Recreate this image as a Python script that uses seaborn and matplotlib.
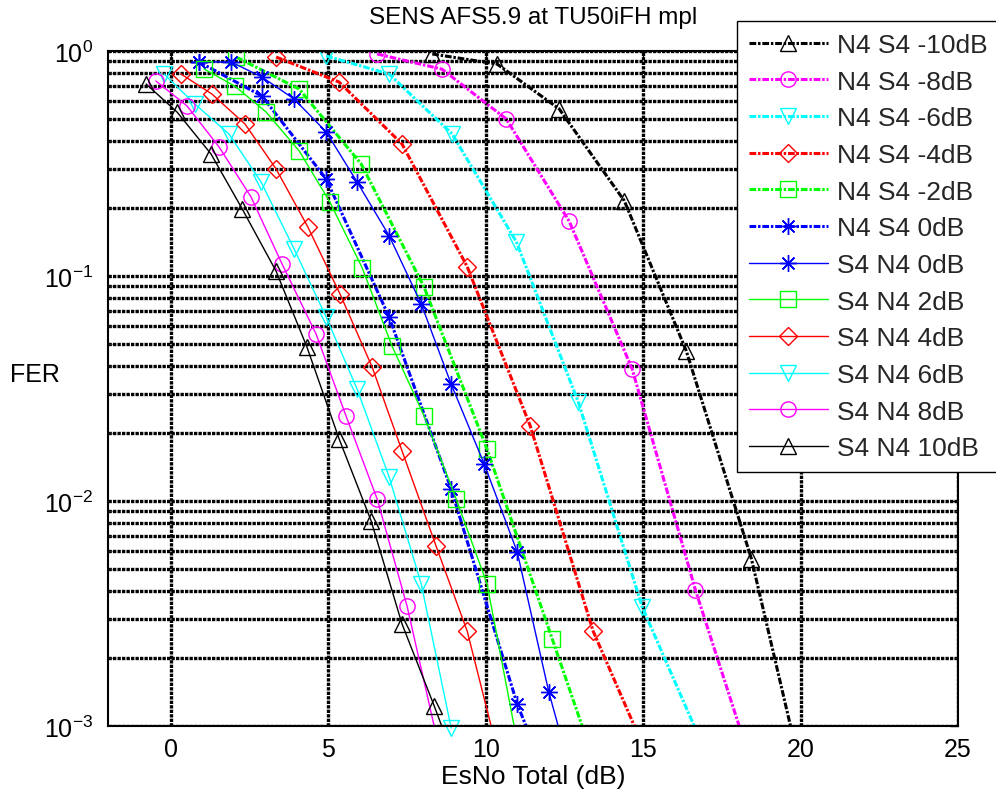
import numpy as np
import pandas as pd
import matplotlib
matplotlib.use("Agg")
import matplotlib.pyplot as plt
import seaborn as sns
from matplotlib.ticker import FixedLocator, LogLocator, NullFormatter, LogFormatterMathtext

# ---------------- data ----------------
# N4 S4 series (dash-dot, markers every ~2 dB); *_end = x where the curve leaves the bottom axis
n4s4_m10_x = [8.30, 10.36, 12.33, 14.40, 16.37, 18.44]
n4s4_m10_y = [0.97, 0.875, 0.553, 0.216, 0.0464, 0.00552]
n4s4_m10_end = 19.68

n4s4_m8_x = [6.55, 8.61, 10.65, 12.65, 14.65, 16.66]
n4s4_m8_y = [0.97, 0.83, 0.499, 0.175, 0.0386, 0.00402]
n4s4_m8_end = 18.05

n4s4_m6_x = [4.93, 6.93, 8.93, 10.97, 12.94, 14.97]
n4s4_m6_y = [0.95, 0.79, 0.428, 0.142, 0.0275, 0.00338]
n4s4_m6_end = 16.62

n4s4_m4_x = [3.34, 5.34, 7.34, 9.41, 11.41, 13.41]
n4s4_m4_y = [0.94, 0.728, 0.386, 0.11, 0.0216, 0.00264]
n4s4_m4_end = 14.72

n4s4_m2_x = [2.07, 4.07, 6.04, 8.04, 10.04, 12.11]
n4s4_m2_y = [0.94, 0.678, 0.315, 0.0893, 0.017, 0.00244]
n4s4_m2_end = 13.06

n4s4_0_x = [0.89, 2.89, 4.93, 6.93, 8.90, 11.0]
n4s4_0_y = [0.894, 0.631, 0.27, 0.0657, 0.0113, 0.00125]
n4s4_0_end = 11.28

# S4 N4 series (solid, markers every ~1 dB)
s4n4_0_x = [0.89, 1.91, 2.89, 3.91, 4.93, 5.91, 6.93, 7.95, 8.90, 9.95, 11.0, 12.0]
s4n4_0_y = [0.894, 0.894, 0.766, 0.612, 0.437, 0.262, 0.151, 0.0751, 0.0331, 0.0146, 0.00593, 0.00142]
s4n4_0_end = 12.30

s4n4_2_x = [1.05, 2.03, 3.02, 4.07, 5.05, 6.07, 7.02, 8.04, 9.06, 10.04]
s4n4_2_y = [0.832, 0.698, 0.536, 0.36, 0.213, 0.109, 0.0489, 0.0239, 0.0102, 0.00428]
s4n4_2_end = 10.90

s4n4_4_x = [0.32, 1.30, 2.35, 3.34, 4.35, 5.37, 6.39, 7.34, 8.42, 9.41]
s4n4_4_y = [0.79, 0.644, 0.474, 0.299, 0.165, 0.0832, 0.0394, 0.0167, 0.00631, 0.00264]
s4n4_4_end = 10.17

s4n4_6_x = [-0.22, 0.76, 1.84, 2.86, 3.91, 4.93, 5.91, 6.93, 7.95, 8.90]
s4n4_6_y = [0.79, 0.581, 0.428, 0.262, 0.132, 0.0657, 0.0315, 0.0128, 0.00428, 0.00098]
s4n4_6_end = None

s4n4_8_x = [-0.48, 0.51, 1.53, 2.54, 3.53, 4.61, 5.56, 6.55, 7.50]
s4n4_8_y = [0.736, 0.570, 0.374, 0.225, 0.113, 0.0552, 0.0239, 0.0102, 0.00341]
s4n4_8_end = 8.36

s4n4_10_x = [-0.79, 0.19, 1.27, 2.26, 3.34, 4.32, 5.34, 6.36, 7.34, 8.36]
s4n4_10_y = [0.713, 0.536, 0.349, 0.199, 0.105, 0.0483, 0.0189, 0.00815, 0.00284, 0.00123]
s4n4_10_end = 8.60

x_ticks = [0, 5, 10, 15, 20, 25]
title_text = "SENS AFS5.9 at TU50iFH mpl"
x_label = "EsNo Total (dB)"
y_label = "FER"

# ---------------- styles ----------------
DASHDOT = (0, (2.2, 0.6, 0.8, 0.6))
ASTER = (8, 2, 0)
series = [
    ("N4 S4 -10dB", n4s4_m10_x, n4s4_m10_y, n4s4_m10_end, "black",   "^", DASHDOT, 2.2),
    ("N4 S4 -8dB",  n4s4_m8_x,  n4s4_m8_y,  n4s4_m8_end,  "#ff00ff", "o", DASHDOT, 2.2),
    ("N4 S4 -6dB",  n4s4_m6_x,  n4s4_m6_y,  n4s4_m6_end,  "#00ffff", "v", DASHDOT, 2.2),
    ("N4 S4 -4dB",  n4s4_m4_x,  n4s4_m4_y,  n4s4_m4_end,  "#ff0000", "D", DASHDOT, 2.2),
    ("N4 S4 -2dB",  n4s4_m2_x,  n4s4_m2_y,  n4s4_m2_end,  "#00ff00", "s", DASHDOT, 2.2),
    ("N4 S4 0dB",   n4s4_0_x,   n4s4_0_y,   n4s4_0_end,   "#0000ff", ASTER, DASHDOT, 2.2),
    ("S4 N4 0dB",   s4n4_0_x,   s4n4_0_y,   s4n4_0_end,   "#0000ff", ASTER, "-", 1.0),
    ("S4 N4 2dB",   s4n4_2_x,   s4n4_2_y,   s4n4_2_end,   "#00ff00", "s", "-", 1.0),
    ("S4 N4 4dB",   s4n4_4_x,   s4n4_4_y,   s4n4_4_end,   "#ff0000", "D", "-", 1.0),
    ("S4 N4 6dB",   s4n4_6_x,   s4n4_6_y,   s4n4_6_end,   "#00ffff", "v", "-", 1.0),
    ("S4 N4 8dB",   s4n4_8_x,   s4n4_8_y,   s4n4_8_end,   "#ff00ff", "o", "-", 1.0),
    ("S4 N4 10dB",  s4n4_10_x,  s4n4_10_y,  s4n4_10_end,  "black",   "^", "-", 1.0),
]
msize = {"^": 11, "v": 11, "o": 11, "D": 9, "s": 11}

sns.set_theme(style="white")
plt.rcParams["font.family"] = ["Liberation Sans", "DejaVu Sans"]
plt.rcParams["mathtext.fontset"] = "custom"
plt.rcParams["mathtext.rm"] = "Liberation Sans"
plt.rcParams["mathtext.it"] = "Liberation Sans"
plt.rcParams["mathtext.default"] = "regular"

fig = plt.figure(figsize=(9.96, 8.03), dpi=100)
ax = fig.add_axes([108 / 996, 1 - 727 / 803, 850 / 996, 675 / 803])
ax.set_yscale("log")

for label, xs, ys, xend, color, marker, ls, lw in series:
    xx = list(xs)
    yy = list(ys)
    if xend is not None:
        xx.append(xend)
        yy.append(1e-3)
    df = pd.DataFrame({"EsNo": xx, "FER": yy})
    ms = msize.get(marker, 12) if isinstance(marker, str) else 12
    sns.lineplot(
        data=df, x="EsNo", y="FER", ax=ax, sort=False, estimator=None, errorbar=None,
        color=color, linestyle=ls, linewidth=lw, marker=marker, markersize=ms,
        markerfacecolor="none", markeredgecolor=color, markeredgewidth=1.0,
        markevery=list(range(len(xs))), label=label,
        clip_on=(xend is not None),
    )

ax.set_xlim(-2, 25)
ax.set_ylim(1e-3, 1)
ax.xaxis.set_major_locator(FixedLocator(x_ticks))
ax.yaxis.set_major_locator(LogLocator(base=10, numticks=10))
ax.yaxis.set_major_formatter(LogFormatterMathtext())
ax.yaxis.set_minor_locator(LogLocator(base=10, subs=np.arange(2, 10), numticks=100))
ax.yaxis.set_minor_formatter(NullFormatter())

grid_ls = (0, (1.0, 0.35))
ax.grid(True, which="major", axis="both", color="black", linestyle=grid_ls, linewidth=2.4)
ax.grid(True, which="minor", axis="y", color="black", linestyle=grid_ls, linewidth=2.4)
ax.set_axisbelow(True)

for sp in ax.spines.values():
    sp.set_color("black")
    sp.set_linewidth(1.5)

ax.tick_params(axis="both", which="major", labelsize=18, colors="black", direction="in",
               length=6, width=1, top=True, right=True)
ax.tick_params(axis="x", pad=8)
ax.tick_params(axis="y", pad=11)
ax.tick_params(axis="y", which="minor", length=3, direction="in", left=True, right=True)

ax.set_xlabel(x_label, fontsize=19, color="black")
ax.xaxis.set_label_coords(0.5, -(777 - 727) / 675)
ax.xaxis.label.set_va("center")
ax.set_ylabel(y_label, fontsize=18, color="black", rotation=0)
ax.yaxis.set_label_coords((35 - 108) / 850, (727 - 375) / 675)
ax.yaxis.label.set_va("center")
ax.yaxis.label.set_ha("center")

fig.text(533 / 996, 1 - 18 / 803, title_text, ha="center", va="center", fontsize=17.5, color="black")

leg = ax.legend(loc="upper left", bbox_to_anchor=(737 / 996, 1 - 22 / 803),
                bbox_transform=fig.transFigure, borderaxespad=0, fontsize=19,
                handlelength=3.0, handletextpad=0.35, labelspacing=0.48,
                borderpad=0.45, fancybox=False, framealpha=1, edgecolor="black",
                facecolor="white")
leg.get_frame().set_linewidth(1.0)

fig.savefig("out.png", dpi=100, facecolor="white")
